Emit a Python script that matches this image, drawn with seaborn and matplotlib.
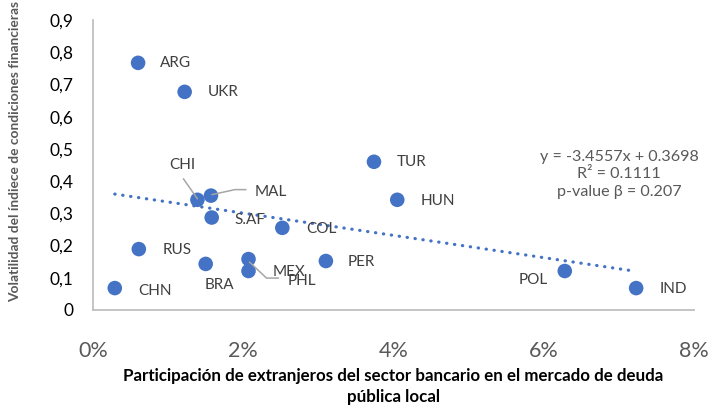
import numpy as np
import pandas as pd
import matplotlib
matplotlib.use("Agg")
import matplotlib.pyplot as plt
from matplotlib.ticker import FuncFormatter
import seaborn as sns

# ---- data ----
countries = ["ARG", "UKR", "CHI", "MAL", "S.AF", "COL", "RUS", "BRA", "MEX",
             "PHL", "PER", "CHN", "TUR", "HUN", "POL", "IND"]
share = [0.0060, 0.0122, 0.0139, 0.0157, 0.0158, 0.0252, 0.0061, 0.0150,
         0.0207, 0.0207, 0.0310, 0.0029, 0.0374, 0.0405, 0.0628, 0.0723]
volat = [0.767, 0.677, 0.342, 0.355, 0.287, 0.255, 0.189, 0.143,
         0.158, 0.121, 0.152, 0.068, 0.460, 0.342, 0.121, 0.068]
trend_slope = -3.4557
trend_intercept = 0.3698
eq_lines = ["y = -3.4557x + 0.3698", "R² = 0.1111", "p-value β = 0.207"]
x_ticks = [0.0, 0.02, 0.04, 0.06, 0.08]
y_ticks = [0, 0.1, 0.2, 0.3, 0.4, 0.5, 0.6, 0.7, 0.8, 0.9]
x_title = "Participación de extranjeros del sector bancario en el mercado de deuda\npública local"
y_title = "Volatilidad del índiece de condiciones financieras"

df = pd.DataFrame({"pais": countries, "x": share, "y": volat})

# ---- style ----
sns.set_style("white")
plt.rcParams["font.family"] = ["Lato", "DejaVu Sans"]

BLUE = "#4472C4"
fig = plt.figure(figsize=(7.21, 4.08), dpi=100)
ax = fig.add_axes([93 / 721, 1 - 310 / 408, (694 - 93) / 721, (310 - 20) / 408])

sns.scatterplot(data=df, x="x", y="y", ax=ax, s=110, color=BLUE,
                edgecolor="none", zorder=3)

# trend line
xs = np.array([df.x.min(), df.x.max()])
ax.plot(xs, trend_slope * xs + trend_intercept, color=BLUE, lw=2.3,
        linestyle=(0, (0.1, 2.4)), dash_capstyle="round", zorder=2)

ax.set_xlim(0, 0.08)
ax.set_ylim(0, 0.9)
ax.set_xticks(x_ticks)
ax.set_yticks(y_ticks)
ax.xaxis.set_major_formatter(FuncFormatter(lambda v, p: f"{v*100:.0f}%"))
ax.yaxis.set_major_formatter(FuncFormatter(
    lambda v, p: "0" if abs(v) < 1e-9 else f"{v:.1f}".replace(".", ",")))
ax.tick_params(axis="x", labelsize=15.5, colors="#595959", length=0, pad=22)
ax.tick_params(axis="y", labelsize=12.5, colors="#000000", length=0, pad=14)
for s in ["top", "right"]:
    ax.spines[s].set_visible(False)
for s in ["left", "bottom"]:
    ax.spines[s].set_color("#BFBFBF")
    ax.spines[s].set_linewidth(1.3)

ax.set_xlabel(x_title, fontsize=12.2, fontweight="bold", color="#000000",
              labelpad=5, linespacing=1.4)
ax.set_ylabel(y_title, fontsize=9.9, fontweight="bold", color="#595959")
ax.yaxis.set_label_coords(-0.12, 0.545)

# ---- labels (pixel offsets relative to points; +y is up) ----
label_pos = {
    "ARG": (22, 0, "left"), "UKR": (23, 0, "left"), "CHI": (-15, 35, "center"),
    "MAL": (44, 4, "left"), "S.AF": (23, -2, "left"), "COL": (24, -1, "left"),
    "RUS": (24, -1, "left"), "BRA": (14, -21, "center"), "MEX": (24, -13, "left"),
    "PHL": (39, -10, "left"), "PER": (22, -1, "left"), "CHN": (23, -3, "left"),
    "TUR": (23, 0, "left"), "HUN": (23, -1, "left"), "POL": (-17, -9, "right"),
    "IND": (23, -1, "left"),
}
for _, r in df.iterrows():
    dx, dy, ha = label_pos[r.pais]
    ax.annotate(r.pais, (r.x, r.y), xytext=(dx, dy), textcoords="offset pixels",
                ha=ha, va="center", fontsize=11, color="#404040", zorder=4)

# leader lines (pixel offsets relative to the point)
leaders = {
    "CHI": [(0, 1), (-14, 21)],
    "MAL": [(1, 1), (24, 6), (35, 6)],
    "MEX": [(1, -3), (18, -19), (30, -19)],
}
inv = ax.transData.inverted()
for name, offs in leaders.items():
    r = df[df.pais == name].iloc[0]
    px, py = ax.transData.transform((r.x, r.y))
    pts = inv.transform([(px + ox, py + oy) for ox, oy in offs])
    ax.plot(pts[:, 0], pts[:, 1], color="#A6A6A6", lw=1.1, zorder=3.5)

# equation box
ax.text(0.0700, 0.422, "\n".join(eq_lines), ha="center", va="center",
        fontsize=11.6, color="#595959", linespacing=1.32)

fig.savefig("out.png", dpi=100)
